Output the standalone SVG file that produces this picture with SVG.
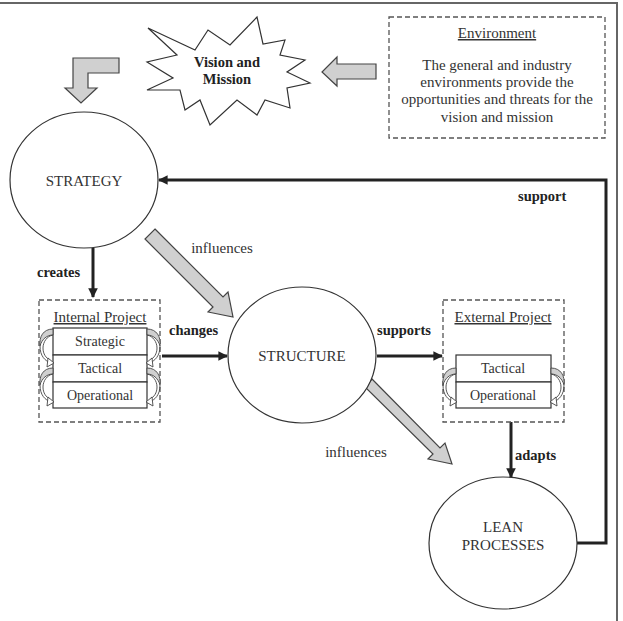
<svg xmlns="http://www.w3.org/2000/svg" width="623" height="621" viewBox="0 0 623 621">
<defs>
<style>
text{font-family:"Liberation Serif","Times New Roman",serif;fill:#333}
.t{font-size:15px;text-anchor:middle}
.b{font-size:14.5px;font-weight:bold;fill:#222}
.r{font-size:14px;text-anchor:middle}
.node{fill:#fff;stroke:#333;stroke-width:1.2}
.dash{fill:none;stroke:#555;stroke-width:1.3;stroke-dasharray:5,3}
.row{fill:#fff;stroke:#333;stroke-width:1.2}
.conn{fill:none;stroke:#222;stroke-width:3}
.gray{fill:#d0d0d0;stroke:#444;stroke-width:1.2}
.u{text-decoration:underline}
</style>
<marker id="ah" viewBox="0 0 10 10" refX="9" refY="5" markerWidth="3.2" markerHeight="3.2" orient="auto" markerUnits="strokeWidth">
<path d="M0,0 L10,5 L0,10 Z" fill="#222"/>
</marker>
<g id="curl">
<path d="M0,0 C-10,0 -14,8 -13,17 C-11,10 -6,6 0,6 Z" fill="#d0d0d0" stroke="#444" stroke-width="0.9"/>
<path d="M-13,17 C-13,27 -8,32 -2,34 M0,6 C-6,7 -10,13 -10,19 C-10,25 -7,29 -3,31" fill="none" stroke="#444" stroke-width="0.9"/>
<path d="M-5,29 L1,34 L-6,38 Z" fill="#fff" stroke="#444" stroke-width="0.9"/>
</g>
</defs>
<rect x="0" y="0" width="623" height="621" fill="#fff"/>
<g id="frame" fill="none" stroke="#666" stroke-width="2">
<line x1="0" y1="3" x2="618" y2="3"/>
<line x1="617" y1="3" x2="617" y2="621"/>
</g>

<g id="connectors">
<line class="conn" x1="93" y1="248" x2="93" y2="297" stroke-width="2.5" marker-end="url(#ah)"/>
<line class="conn" x1="162" y1="356" x2="227" y2="356" marker-end="url(#ah)"/>
<line class="conn" x1="377" y1="356" x2="442" y2="356" marker-end="url(#ah)"/>
<line class="conn" x1="511" y1="422" x2="511" y2="477" marker-end="url(#ah)"/>
<polyline class="conn" points="577,543 606,543 606,180 159,180" marker-end="url(#ah)"/>
<path class="gray" d="M155,229 L223,297 L228,292 L233,317 L208,312 L213,307 L145,239 Z"/>
<path class="gray" d="M372,379 L440,448 L445,443 L452,464 L428,459 L433,454 L365,387 Z"/>
<path class="gray" d="M119,58 L119,73 L88,73 L88,88 L97,88 L81,103 L65,88 L73,88 L73,58 Z"/>
<path class="gray" d="M376,64 L376,79 L337,79 L337,86 L322,72 L337,57 L337,64 Z"/>
<text class="b" x="37" y="277">creates</text>
<text class="b" x="169" y="335">changes</text>
<text class="b" x="377" y="335">supports</text>
<text class="b" x="515" y="460">adapts</text>
<text class="b" x="518" y="201">support</text>
<text class="t" x="222" y="253">influences</text>
<text class="t" x="356" y="457">influences</text>
</g>

<g id="vision">
<polygon class="node" points="148,28 195,50 208,30 230,45 257,17 263,44 285,40 280,55 305,60 287,72 310,83 287,88 290,108 265,100 257,115 237,100 210,125 200,100 185,110 180,90 147,90 173,78 147,62 177,55"/>
<text x="227" y="67" style="font-size:14.5px;font-weight:bold;text-anchor:middle;fill:#222">Vision and</text>
<text x="227" y="84" style="font-size:14.5px;font-weight:bold;text-anchor:middle;fill:#222">Mission</text>
</g>

<g id="environment">
<rect class="dash" x="389" y="17" width="216" height="121"/>
<text class="t u" x="497" y="38">Environment</text>
<text class="t" x="497" y="70">The general and industry</text>
<text class="t" x="497" y="87">environments provide the</text>
<text class="t" x="497" y="104">opportunities and threats for the</text>
<text class="t" x="497" y="122">vision and mission</text>
</g>

<g id="strategy">
<ellipse class="node" cx="84" cy="180" rx="74" ry="68"/>
<text class="t" x="84" y="186">STRATEGY</text>
</g>

<g id="internal">
<rect class="dash" x="39" y="300" width="121" height="122"/>
<text class="t u" x="100" y="322">Internal Project</text>
<rect class="row" x="53" y="328" width="94" height="27"/>
<rect class="row" x="53" y="355" width="94" height="27"/>
<rect class="row" x="53" y="382" width="94" height="26"/>
<text class="r" x="100" y="346">Strategic</text>
<text class="r" x="100" y="373">Tactical</text>
<text class="r" x="100" y="400">Operational</text>
<use href="#curl" transform="translate(53,329)"/>
<use href="#curl" transform="translate(53,368)"/>
<use href="#curl" transform="translate(147,329) scale(-1,1)"/>
<use href="#curl" transform="translate(147,368) scale(-1,1)"/>
</g>

<g id="structure">
<ellipse class="node" cx="302" cy="355" rx="74" ry="68"/>
<text class="t" x="302" y="361">STRUCTURE</text>
</g>

<g id="external">
<rect class="dash" x="443" y="300" width="121" height="122"/>
<text class="t u" x="503" y="322">External Project</text>
<rect class="row" x="456" y="355" width="95" height="27"/>
<rect class="row" x="456" y="382" width="95" height="26"/>
<text class="r" x="503" y="373">Tactical</text>
<text class="r" x="503" y="400">Operational</text>
<use href="#curl" transform="translate(456,368)"/>
<use href="#curl" transform="translate(551,368) scale(-1,1)"/>
</g>

<g id="lean">
<ellipse class="node" cx="503" cy="543" rx="74" ry="66"/>
<text class="t" x="503" y="532">LEAN</text>
<text class="t" x="503" y="550">PROCESSES</text>
</g>
</svg>
